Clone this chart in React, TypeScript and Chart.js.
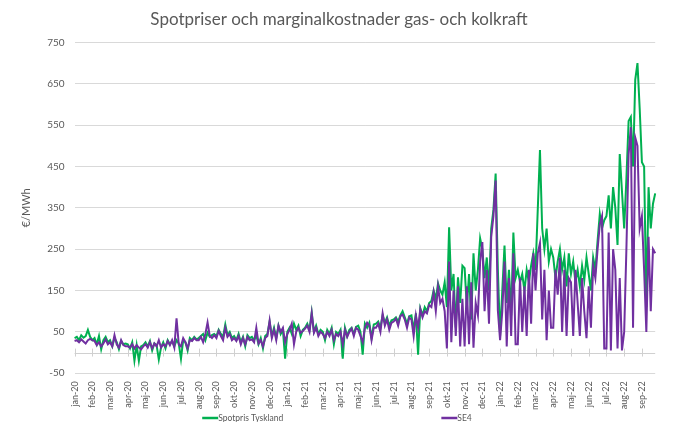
import React, { useEffect, useRef } from "react";
import { Chart, registerables } from "chart.js";

Chart.register(...registerables);

const chartTitle = "Spotpriser och marginalkostnader gas- och kolkraft";
const yAxisTitle = "€/MWh";
const seriesNames = ["Spotpris Tyskland", "SE4"];

const months = [
  "jan-20", "feb-20", "mar-20", "apr-20", "maj-20", "jun-20", "jul-20", "aug-20", "sep-20", "okt-20", "nov-20", "dec-20",
  "jan-21", "feb-21", "mar-21", "apr-21", "maj-21", "jun-21", "jul-21", "aug-21", "sep-21", "okt-21", "nov-21", "dec-21",
  "jan-22", "feb-22", "mar-22", "apr-22", "maj-22", "jun-22", "jul-22", "aug-22", "sep-22",
];
const pointsPerMonth = 8;

// Spotpris Tyskland (€/MWh), ~4-day samples
const deValues = [
  35, 38, 30, 42, 36, 40, 55, 38, // jan-20
  30, 35, 20, 40, 8, 30, 38, 25, // feb-20
  30, 15, 35, 25, 8, 28, 20, 22, // mar-20
  20, 10, 25, -20, 18, -20, 15, 18, // apr-20
  25, 15, 28, 5, 22, 18, -17, 12, // maj-20
  25, 10, 30, 20, 28, 15, 30, 22, // jun-20
  -15, 30, 25, 5, 35, 30, 38, 32, // jul-20
  35, 40, 45, 30, 48, 38, 42, 45, // aug-20
  40, 55, 45, 38, 68, 42, 50, 35, // sep-20
  40, 30, 45, 25, 38, 15, 42, 35, // okt-20
  38, 30, 42, 20, 35, 10, 40, 45, // nov-20
  75, 40, 60, 35, 65, 45, 55, -15, // dec-20
  50, 60, 45, 70, 55, 65, 40, 55, // jan-21
  60, 70, 55, 97, 50, 65, 45, 55, // feb-21
  50, 30, 55, 45, 60, 20, 50, 45, // mar-21
  55, -15, 60, 40, 55, 60, 45, 62, // apr-21
  65, 50, -5, 70, 60, 72, 35, 68, // maj-21
  70, 75, 60, 90, 72, 85, 65, 78, // jun-21
  80, 85, 75, 90, 100, 85, 70, 88, // jul-21
  90, 55, 95, -5, 107, 90, 110, 100, // aug-21
  120, 125, 150, 130, 167, 150, 140, 170, // sep-21
  110, 303, 150, 190, 60, 182, 120, 210, // okt-21
  204, 110, 190, 80, 240, 150, 200, 276, // nov-21
  250, 180, 230, 150, 300, 345, 433, 200, // dec-21
  40, 150, 259, 120, 200, 90, 290, 180, // jan-22
  200, 170, 190, 150, 200, 170, 210, 240, // feb-22
  200, 345, 490, 300, 250, 300, 220, 250, // mar-22
  230, 180, 220, 250, 200, 230, 160, 240, // apr-22
  190, 220, 170, 200, 160, 210, 175, 230, // maj-22
  190, 150, 230, 200, 270, 335, 300, 320, // jun-22
  330, 380, 300, 400, 350, 260, 480, 390, // jul-22
  300, 420, 560, 570, 450, 660, 700, 590, // aug-22
  460, 450, 110, 400, 300, 360, 385, // sep-22
];

// SE4 (€/MWh)
const se4Values = [
  28, 30, 25, 32, 27, 22, 30, 33, // jan-20
  30, 28, 18, 25, 15, 22, 32, 20, // feb-20
  25, 15, 42, 20, 12, 30, 18, 15, // mar-20
  15, 12, 20, 10, 18, 12, 8, 15, // apr-20
  20, 12, 25, 10, 22, 15, 30, 12, // maj-20
  20, 15, 28, 18, 30, 12, 83, 20, // jun-20
  15, 35, 25, 10, 30, 28, 35, 30, // jul-20
  30, 38, 25, 45, 73, 40, 35, 42, // aug-20
  35, 52, 40, 30, 60, 38, 45, 30, // sep-20
  35, 28, 40, 20, 35, 20, 38, 30, // okt-20
  32, 25, 60, 22, 30, 15, 35, 40, // nov-20
  77, 35, 55, 30, 65, 50, 60, 25, // dec-20
  45, 55, 70, 20, 50, 60, 48, 52, // jan-21
  58, 65, 50, 95, 48, 60, 40, 50, // feb-21
  45, 35, 50, 40, 55, 30, 45, 40, // mar-21
  50, 20, 55, 38, 50, 58, 40, 60, // apr-21
  55, 40, 25, 60, 72, 65, 30, 60, // maj-21
  60, 70, 50, 95, 65, 80, 55, 72, // jun-21
  75, 82, 65, 88, 92, 80, 60, 85, // jul-21
  80, 40, 90, 60, 105, 85, 100, 95, // aug-21
  115, 110, 145, 100, 160, 120, 130, 100, // sep-21
  10, 220, 25, 150, 40, 160, 15, 130, // okt-21
  15, 160, 20, 170, 12, 120, 90, 220, // nov-21
  267, 100, 200, 70, 280, 330, 416, 102, // dec-21
  30, 100, 220, 15, 180, 40, 240, 20, // jan-22
  20, 180, 50, 160, 40, 200, 70, 240, // feb-22
  150, 240, 265, 80, 200, 30, 150, 60, // mar-22
  60, 200, 140, 230, 50, 200, 40, 180, // apr-22
  170, 40, 200, 120, 40, 180, 100, 35, // maj-22
  160, 60, 210, 180, 250, 310, 330, 10, // jun-22
  10, 290, 5, 250, 200, 10, 180, 5, // jul-22
  50, 250, 480, 545, 60, 520, 500, 300, // aug-22
  330, 200, 50, 280, 100, 250, 240, // sep-22
];

const yTicks = [-50, 50, 150, 250, 350, 450, 550, 650, 750];

const GREEN = "#00b050";
const PURPLE = "#7030a0";
const TEXT = "#595959";
const FONT = "Lato";

const labels = deValues.map((_, i) => (i % pointsPerMonth === 0 ? months[i / pointsPerMonth] : ""));

const extrasPlugin = {
  id: "extras",
  beforeDatasetsDraw(chart: any) {
    const { ctx, chartArea, scales } = chart;
    const y0 = scales.y.getPixelForValue(0);
    ctx.save();
    ctx.strokeStyle = "#d0d0d0";
    ctx.lineWidth = 1;
    ctx.beginPath();
    ctx.moveTo(chartArea.left, Math.round(y0) + 0.5);
    ctx.lineTo(chartArea.right, Math.round(y0) + 0.5);
    for (let m = 0; m < months.length; m++) {
      const x = Math.round(scales.x.getPixelForValue(m * pointsPerMonth)) + 0.5;
      ctx.moveTo(x, y0 - 4);
      ctx.lineTo(x, y0 + 4);
    }
    ctx.stroke();
    ctx.restore();
  },
  afterDraw(chart: any) {
    const { ctx } = chart;
    ctx.save();
    ctx.font = `8.5px ${FONT}`;
    ctx.textBaseline = "middle";
    const lineW = 16;
    const gap = 158;
    const w1 = lineW + ctx.measureText(seriesNames[0]).width;
    const w2 = lineW + ctx.measureText(seriesNames[1]).width;
    const total = w1 + gap + w2;
    let x = (chart.width - total) / 2;
    const y = chart.height - 4;
    const colors = [GREEN, PURPLE];
    [w1, w2].forEach((w, i) => {
      ctx.strokeStyle = colors[i];
      ctx.lineWidth = 2.5;
      ctx.beginPath();
      ctx.moveTo(x, y);
      ctx.lineTo(x + lineW, y);
      ctx.stroke();
      ctx.fillStyle = TEXT;
      ctx.fillText(seriesNames[i], x + lineW, y);
      x += w + gap;
    });
    ctx.restore();
  },
};

export default function App() {
  const canvasRef = useRef<HTMLCanvasElement | null>(null);

  useEffect(() => {
    if (!canvasRef.current) return;
    const chart = new Chart(canvasRef.current, {
      type: "line",
      data: {
        labels,
        datasets: [
          {
            label: seriesNames[0],
            data: deValues,
            borderColor: GREEN,
            backgroundColor: GREEN,
            borderWidth: 2,
            pointRadius: 0,
            tension: 0,
            order: 2,
          },
          {
            label: seriesNames[1],
            data: se4Values,
            borderColor: PURPLE,
            backgroundColor: PURPLE,
            borderWidth: 2,
            pointRadius: 0,
            tension: 0,
            order: 1,
          },
        ],
      },
      options: {
        animation: false,
        responsive: true,
        maintainAspectRatio: false,
        layout: { padding: { left: 16, right: 12, top: 0, bottom: 4 } },
        plugins: {
          legend: { display: false },
          tooltip: { enabled: false },
          title: {
            display: true,
            text: chartTitle,
            color: TEXT,
            font: { family: FONT, size: 17, weight: "normal" },
            padding: { top: 9, bottom: 13 },
          },
        },
        scales: {
          x: {
            type: "category",
            grid: { display: false, drawTicks: false },
            border: { display: false },
            ticks: {
              autoSkip: false,
              minRotation: 90,
              maxRotation: 90,
              color: TEXT,
              font: { family: FONT, size: 9 },
              padding: 8,
              callback: (_v: any, i: number) => labels[i],
            },
          },
          y: {
            min: -50,
            max: 750,
            afterBuildTicks: (scale: any) => {
              scale.ticks = yTicks.map((v) => ({ value: v }));
            },
            grid: { color: "#d9d9d9", drawTicks: false },
            border: { display: false },
            ticks: {
              color: TEXT,
              font: { family: FONT, size: 10 },
              padding: 10,
            },
            title: {
              display: true,
              text: yAxisTitle,
              color: TEXT,
              font: { family: FONT, size: 11 },
            },
          },
        },
      },
      plugins: [extrasPlugin],
    });
    return () => chart.destroy();
  }, []);

  return (
    <div style={{ position: "fixed", left: 0, top: 0, width: 674, height: 422, background: "#fff" }}>
      <canvas ref={canvasRef} />
    </div>
  );
}
